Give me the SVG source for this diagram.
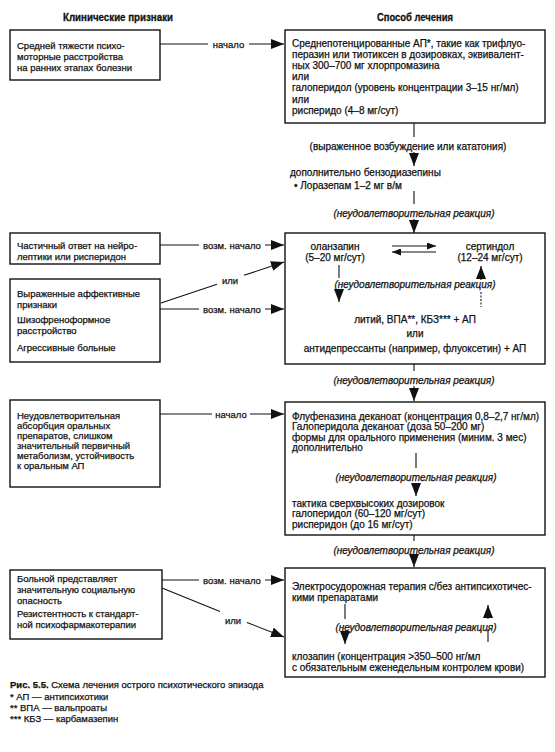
<svg xmlns="http://www.w3.org/2000/svg" width="555" height="752" viewBox="0 0 555 752">
<style>
.bg{fill:#fff}
.box{fill:#fff;stroke:#111;stroke-width:1.4}
.t{font-family:"Liberation Sans",Arial,sans-serif;font-size:9.5px;fill:#111;stroke:#111;stroke-width:0.25}
.r{font-size:10px}
.c{text-anchor:middle}
.i{font-style:italic}
.h{font-family:"Liberation Sans",Arial,sans-serif;font-size:11px;font-weight:bold;fill:#111;stroke:#111;stroke-width:0.3;text-anchor:middle}
.b{font-weight:bold}
.ln{fill:none;stroke:#111;stroke-width:1.1}
.dash{stroke-dasharray:2 1.5}
</style>
<defs>
<marker id="ah" viewBox="0 0 13 10" refX="13" refY="5" markerWidth="13" markerHeight="10" markerUnits="userSpaceOnUse" orient="auto"><path d="M0,0 L13,5 L0,10 z" fill="#111"/></marker>
<marker id="as" viewBox="0 0 9 7" refX="9" refY="3.5" markerWidth="9" markerHeight="7" markerUnits="userSpaceOnUse" orient="auto"><path d="M0,0 L9,3.5 L0,7 z" fill="#111"/></marker>
</defs>
<rect class="bg" x="0" y="0" width="555" height="752"/>
<text class="h" x="118" y="21" textLength="110" lengthAdjust="spacingAndGlyphs">Клинические признаки</text>
<text class="h" x="415" y="21" textLength="76" lengthAdjust="spacingAndGlyphs">Способ лечения</text>

<g id="L1">
<rect class="box" x="10" y="30" width="150" height="50"/>
<text class="t" x="17" y="48.5">Средней тяжести психо-</text>
<text class="t" x="17" y="59.5">моторные расстройства</text>
<text class="t" x="17" y="70.5">на ранних этапах болезни</text>
</g>
<g id="R1">
<rect class="box" x="285" y="30" width="260" height="93"/>
<text class="t r" x="292" y="46.5">Среднепотенцированные АП*, такие как трифлуо-</text>
<text class="t r" x="292" y="57.5">перазин или тиотиксен в дозировках, эквивалент-</text>
<text class="t r" x="292" y="68.5">ных 300–700 мг хлорпромазина</text>
<text class="t r" x="292" y="79.5">или</text>
<text class="t r" x="292" y="91">галоперидол (уровень концентрации 3–15 нг/мл)</text>
<text class="t r" x="292" y="102.5">или</text>
<text class="t r" x="292" y="114">рисперидо (4–8 мг/сут)</text>
</g>
<g id="BZD">
<text class="t r" x="290" y="176">дополнительно бензодиазепины</text>
<text class="t r" x="294" y="189">• Лоразепам 1–2 мг в/м</text>
</g>
<g id="L2">
<rect class="box" x="10" y="233" width="150" height="31"/>
<text class="t" x="17" y="249">Частичный ответ на нейро-</text>
<text class="t" x="17" y="260">лептики или рисперидон</text>
</g>
<g id="L3">
<rect class="box" x="10" y="279" width="150" height="83"/>
<text class="t" x="17" y="296.5">Выраженные аффективные</text>
<text class="t" x="17" y="307.5">признаки</text>
<text class="t" x="17" y="322.5">Шизофреноформное</text>
<text class="t" x="17" y="333.5">расстройство</text>
<text class="t" x="17" y="350.5">Агрессивные больные</text>
</g>
<g id="R2">
<rect class="box" x="285" y="233" width="260" height="131"/>
<text class="t r c" x="335" y="249.5">оланзапин</text>
<text class="t r c" x="335" y="260.5">(5–20 мг/сут)</text>
<text class="t r c" x="490" y="249.5">сертиндол</text>
<text class="t r c" x="490" y="260.5">(12–24 мг/сут)</text>
<text class="t r c i" x="415" y="287.5">(неудовлетворительная реакция)</text>
<text class="t r c" x="415" y="322.5">литий, ВПА**, КБЗ*** + АП</text>
<text class="t r c" x="415" y="336.5">или</text>
<text class="t r c" x="415" y="351.5">антидепрессанты (например, флуоксетин) + АП</text>
</g>
<g id="L4">
<rect class="box" x="10" y="400" width="150" height="87"/>
<text class="t" x="17" y="418.5">Неудовлетворительная</text>
<text class="t" x="17" y="428.5">абсорбция оральных</text>
<text class="t" x="17" y="438.5">препаратов, слишком</text>
<text class="t" x="17" y="448.5">значительный первичный</text>
<text class="t" x="17" y="458.5">метаболизм, устойчивость</text>
<text class="t" x="17" y="468.5">к оральным АП</text>
</g>
<g id="R3">
<rect class="box" x="285" y="402" width="260" height="133"/>
<text class="t r" x="292" y="419.5">Флуфеназина деканоат (концентрация 0,8–2,7 нг/мл)</text>
<text class="t r" x="292" y="430">Галоперидола деканоат (доза 50–200 мг)</text>
<text class="t r" x="292" y="440.5">формы для орального применения (миним. 3 мес)</text>
<text class="t r" x="292" y="451">дополнительно</text>
<text class="t r c i" x="416" y="480.5">(неудовлетворительная реакция)</text>
<text class="t r" x="292" y="506.5">тактика сверхвысоких дозировок</text>
<text class="t r" x="292" y="517">галоперидол (60–120 мг/сут)</text>
<text class="t r" x="292" y="527.5">рисперидон (до 16 мг/сут)</text>
</g>
<g id="L5">
<rect class="box" x="10" y="570" width="152" height="69"/>
<text class="t" x="17" y="581.5">Больной представляет</text>
<text class="t" x="17" y="592.5">значительную социальную</text>
<text class="t" x="17" y="603.5">опасность</text>
<text class="t" x="17" y="617">Резистентность к стандарт-</text>
<text class="t" x="17" y="628">ной психофармакотерапии</text>
</g>
<g id="R4">
<rect class="box" x="285" y="568" width="260" height="109"/>
<text class="t r" x="292" y="589.5">Электросудорожная терапия с/без антипсихотичес-</text>
<text class="t r" x="292" y="600.5">кими препаратами</text>
<text class="t r c i" x="416" y="630.5">(неудовлетворительная реакция)</text>
<text class="t r" x="292" y="659.5">клозапин (концентрация &gt;350–500 нг/мл</text>
<text class="t r" x="292" y="670.5">с обязательным еженедельным контролем крови)</text>
</g>

<g id="connectors">
<path class="ln" d="M160,44 H208 M249,44 H284" marker-end="url(#ah)"/>
<text class="t" x="228.5" y="47.5" text-anchor="middle">начало</text>
<path class="ln" d="M414,123 V137 M414,152 V166" marker-end="url(#ah)"/>
<text class="t r c" x="408" y="149.5">(выраженное возбуждение или кататония)</text>
<path class="ln" d="M414,191 V204 M414,219 V233" marker-end="url(#ah)"/>
<text class="t r c i" x="414" y="216.5">(неудовлетворительная реакция)</text>
<path class="ln" d="M160,245 H199 M265,245 H284" marker-end="url(#ah)"/>
<text class="t c" x="232" y="248.5">возм. начало</text>
<path class="ln" d="M161,303 L217,284.3 M244,275.3 L284,262" marker-end="url(#ah)"/>
<text class="t c" x="230" y="284">или</text>
<path class="ln" d="M160,309 H199 M265,309 H284" marker-end="url(#ah)"/>
<text class="t c" x="232" y="312.5">возм. начало</text>
<path class="ln" d="M392,246 H436" marker-end="url(#as)"/>
<path class="ln" d="M436,252 H392" marker-end="url(#as)"/>
<path class="ln" d="M339,265 V278 M339,290 V302" marker-end="url(#ah)"/>
<path class="ln" d="M481,280 V266" marker-end="url(#ah)"/>
<path class="ln dash" d="M481,292 V307"/>
<path class="ln" d="M414,364 V371 M414,386 V401" marker-end="url(#ah)"/>
<text class="t r c i" x="414" y="383.5">(неудовлетворительная реакция)</text>
<path class="ln" d="M160,414 H212 M250,414 H284" marker-end="url(#ah)"/>
<text class="t c" x="231" y="417.5">начало</text>
<path class="ln" d="M416,453 V468 M416,483 V496" marker-end="url(#ah)"/>
<path class="ln" d="M414,535 V541 M414,556 V567" marker-end="url(#ah)"/>
<text class="t r c i" x="414" y="553.5">(неудовлетворительная реакция)</text>
<path class="ln" d="M162,580 H199 M265,580 H284" marker-end="url(#ah)"/>
<text class="t c" x="232" y="583.5">возм. начало</text>
<path class="ln" d="M162,588 L220,611.5 M247,622.5 L284,637" marker-end="url(#ah)"/>
<text class="t c" x="233" y="624">или</text>
<path class="ln" d="M345,604 V619 M345,631 V644" marker-end="url(#ah)"/>
<path class="ln" d="M488,619 V605" marker-end="url(#ah)"/>
<path class="ln" d="M488,629 V642"/>
</g>

<g id="caption">
<text class="t" x="10" y="688"><tspan class="b">Рис. 5.5.</tspan>   Схема лечения острого психотического эпизода</text>
<text class="t" x="10" y="700">* АП — антипсихотики</text>
<text class="t" x="10" y="711">** ВПА — вальпроаты</text>
<text class="t" x="10" y="722">*** КБЗ — карбамазепин</text>
</g>
</svg>
